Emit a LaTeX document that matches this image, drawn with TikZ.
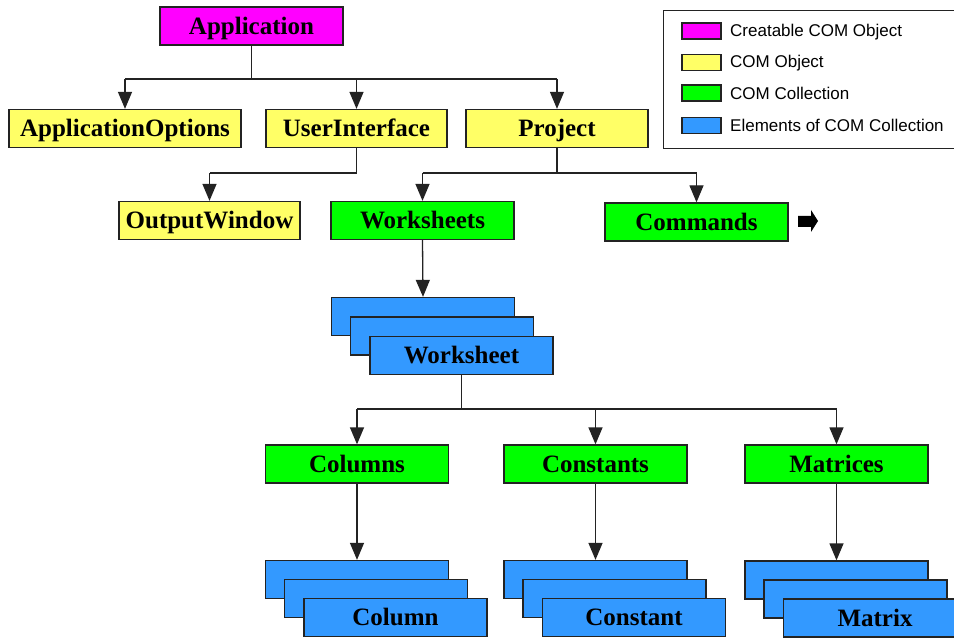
\documentclass[tikz,border=0pt]{standalone}
\usepackage{fontspec}
\setmainfont{Liberation Serif}
\newfontfamily\legfont{Liberation Sans}
\usetikzlibrary{arrows.meta}
\definecolor{cmag}{RGB}{255,0,255}
\definecolor{cyel}{RGB}{255,255,102}
\definecolor{cgrn}{RGB}{0,255,0}
\definecolor{cblu}{RGB}{51,153,255}
\definecolor{cline}{RGB}{35,35,35}
\begin{document}
\begin{tikzpicture}[x=1pt,y=-1pt,
  box/.style={draw=cline,line width=1.3pt,minimum width=183pt,minimum height=38pt,
    inner sep=0pt,font=\fontsize{25}{25}\selectfont\bfseries,text height=16.5pt,text depth=0pt},
  creatable/.style={box,fill=cmag},
  obj/.style={box,fill=cyel},
  coll/.style={box,fill=cgrn},
  elem/.style={box,fill=cblu},
  conn/.style={draw=cline,line width=1.3pt},
  arr/.style={conn,-{Triangle[width=14pt,length=17pt]}},
  swatch/.style={draw=cline,line width=1.3pt,minimum width=39pt,minimum height=16pt,inner sep=0pt},
  legtext/.style={anchor=west,inner sep=0pt,font=\legfont\fontsize{17}{17}\selectfont,text height=12.2pt,text depth=0pt}]
\clip (0,0) rectangle (954,639);
\fill[white] (0,0) rectangle (954,639);

% level coordinates
\coordinate (j1) at (0,79);
\coordinate (j2) at (0,173);
\coordinate (j3) at (0,409);

% top level
\node[creatable] (app) at (251.5,26) {Application};
\node[obj,minimum width=232pt] (ao) at (125,128.5) {ApplicationOptions};
\node[obj,minimum width=181pt] (ui) at (356.5,128.5) {UserInterface};
\node[obj,minimum width=182pt] (proj) at (557,128.5) {Project};
\node[obj,minimum width=181pt] (ow) at (209.5,220.5) {OutputWindow};
\node[coll] (ws) at (422.5,220.5) {Worksheets};
\node[coll] (cmds) at (696.5,222) {Commands};

% worksheet stack
\node[elem] (wsA) at (423,316.5) {};
\node[elem] (wsB) at (442,336) {};
\node[elem] (wsC) at (461.5,355.5) {Worksheet};

% collections
\node[coll] (cols) at (357,464) {Columns};
\node[coll] (consts) at (595.5,464) {Constants};
\node[coll] (mats) at (836.5,464) {Matrices};

% element stacks
\node[elem] (colA) at (357,579.5) {};
\node[elem] (colB) at (376,598.5) {};
\node[elem] (colC) at (395.5,617.5) {Column};
\node[elem] (conA) at (595.5,579.5) {};
\node[elem] (conB) at (614.5,598.5) {};
\node[elem] (conC) at (634,617.5) {Constant};
\node[elem] (matA) at (836.5,580) {};
\node[elem] (matB) at (855.5,599) {};
\node[elem] (matC) at (875,618) {Matrix};

% connectors: Application
\draw[conn] (app.south) -- (app.south |- j1);
\draw[conn] (ao.north |- j1) -- (proj.north |- j1);
\draw[arr] (ao.north |- j1) -- (ao.north);
\draw[arr] (ui.north |- j1) -- (ui.north);
\draw[arr] (proj.north |- j1) -- (proj.north);

% UserInterface
\draw[conn] (ui.south) -- (ui.south |- j2) -- (ow.north |- j2);
\draw[arr] (ow.north |- j2) -- (ow.north);

% Project
\draw[conn] (proj.south) -- (proj.south |- j2);
\draw[conn] (ws.north |- j2) -- (cmds.north |- j2);
\draw[arr] (ws.north |- j2) -- (ws.north);
\draw[arr] (cmds.north |- j2) -- (cmds.north);

% Worksheets
\draw[arr] (ws.south) -- (wsA.north);
\draw[conn] (wsC.south) -- (wsC.south |- j3);
\draw[conn] (cols.north |- j3) -- (mats.north |- j3);
\draw[arr] (cols.north |- j3) -- (cols.north);
\draw[arr] (consts.north |- j3) -- (consts.north);
\draw[arr] (mats.north |- j3) -- (mats.north);

% collections to elements
\draw[arr] (cols.south) -- (colA.north);
\draw[arr] (consts.south) -- (conA.north);
\draw[arr] (mats.south) -- (matA.north);

% thick arrow after Commands
\fill[black] (798,216) -- (811,216) -- (811,210) -- (818,221) -- (811,232) -- (811,227) -- (798,227) -- cycle;

% legend
\node[draw=cline,line width=1.3pt,anchor=north west,minimum width=320pt,minimum height=138pt,inner sep=0pt] (legend) at (663,10) {};
\node[swatch,fill=cmag] (sw1) at (701.5,31) {};
\node[swatch,fill=cyel] (sw2) at (701.5,62.5) {};
\node[swatch,fill=cgrn] (sw3) at (701.5,93) {};
\node[swatch,fill=cblu] (sw4) at (701.5,125.5) {};
\node[legtext] (lt1) at (730,30.7) {Creatable COM Object};
\node[legtext] (lt2) at (730,61.7) {COM Object};
\node[legtext] (lt3) at (730,93) {COM Collection};
\node[legtext] (lt4) at (730,125) {Elements of COM Collection};
\end{tikzpicture}
\end{document}
